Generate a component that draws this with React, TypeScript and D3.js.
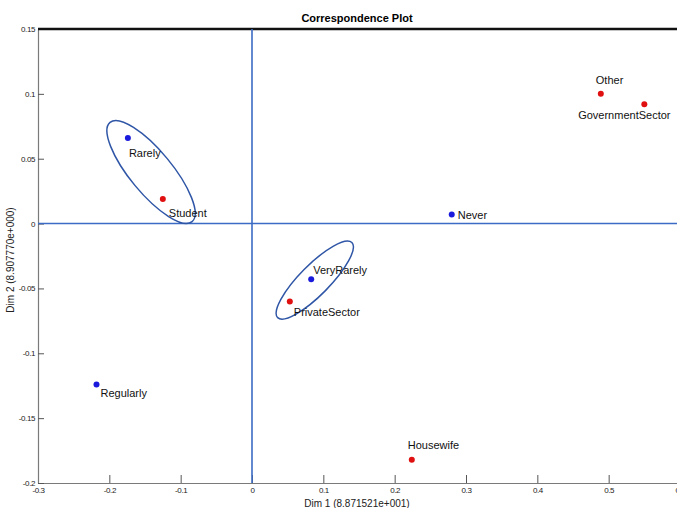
import { useEffect, useRef } from "react";
import * as d3 from "d3";

const W = 677, H = 508;
const M = { top: 29, left: 38, bottom: 25 };
const PLOT_RIGHT = 680; // plot extends slightly past the window edge

const X_TICKS = [-0.3, -0.2, -0.1, 0, 0.1, 0.2, 0.3, 0.4, 0.5, 0.6];
const Y_TICKS = [0.15, 0.1, 0.05, 0, -0.05, -0.1, -0.15, -0.2];

// row points (usage frequency)
const ROW_NAMES = ["Rarely", "Never", "VeryRarely", "Regularly"];
const ROW_X = [-0.174, 0.28, 0.083, -0.218];
const ROW_Y = [0.066, 0.007, -0.043, -0.124];

// column points (occupation)
const COL_NAMES = ["Student", "PrivateSector", "Housewife", "Other", "GovernmentSector"];
const COL_X = [-0.125, 0.053, 0.224, 0.489, 0.55];
const COL_Y = [0.019, -0.06, -0.182, 0.1, 0.092];

// label placement relative to point (pixel offset, anchor)
const LABEL_POS: Record<string, [number, number, string]> = {
  Rarely: [1, 19, "start"],
  Never: [6, 5, "start"],
  VeryRarely: [2, -5, "start"],
  Regularly: [4, 13, "start"],
  Student: [6, 18, "start"],
  PrivateSector: [4, 15, "start"],
  Housewife: [-4, -11, "start"],
  Other: [-5, -10, "start"],
  GovernmentSector: [-20, 15, "middle"],
};

// cluster ellipses: long-axis end points in data coords, plus half-width
const ELL_A = [[-0.199, 0.078], [0.14, -0.0146]];
const ELL_B = [[-0.084, 0.0015], [0.036, -0.0725]];
const ELL_HALF = [21, 15];

const BLUE = "#3b6bc4";
const ELL = "#2f56a6";

export default function App() {
  const ref = useRef<SVGSVGElement>(null);

  useEffect(() => {
    const svg = d3.select(ref.current);
    svg.selectAll("*").remove();

    const x = d3.scaleLinear().domain([-0.3, 0.6]).range([M.left, PLOT_RIGHT]);
    const y = d3.scaleLinear().domain([-0.2, 0.15]).range([H - M.bottom, M.top]);
    const font = "'Liberation Sans', Arial, sans-serif";

    // axes
    const xAx = svg.append("g").attr("transform", `translate(0,${y(-0.2)})`)
      .call(d3.axisBottom(x).tickValues(X_TICKS).tickSizeInner(-8).tickSizeOuter(0)
        .tickFormat(d => String(+(+d).toFixed(2))));
    xAx.select(".domain").attr("stroke", "#7a7a7a").attr("stroke-width", 1.2);
    xAx.selectAll(".tick line").attr("stroke", "#555");
    xAx.selectAll("text").attr("fill", "#222").attr("font-size", 8).attr("font-family", font)
      .attr("letter-spacing", -0.4).attr("y", 4).attr("dy", "0.71em");

    const yAx = svg.append("g").attr("transform", `translate(${M.left},0)`)
      .call(d3.axisLeft(y).tickValues(Y_TICKS).tickSizeInner(-6).tickSizeOuter(0)
        .tickFormat(d => String(+(+d).toFixed(2))));
    yAx.select(".domain").attr("stroke", "#7a7a7a").attr("stroke-width", 1.2);
    yAx.selectAll(".tick line").attr("stroke", "#555");
    yAx.selectAll("text").attr("fill", "#222").attr("font-size", 8).attr("font-family", font)
      .attr("letter-spacing", -0.4).attr("x", -3);

    // top frame line
    svg.append("line").attr("x1", M.left).attr("x2", W).attr("y1", y(0.15)).attr("y2", y(0.15))
      .attr("stroke", "#111").attr("stroke-width", 2.5);

    // zero lines
    svg.append("line").attr("x1", x(0)).attr("x2", x(0)).attr("y1", y(0.15)).attr("y2", y(-0.2))
      .attr("stroke", BLUE).attr("stroke-width", 1.6);
    svg.append("line").attr("x1", M.left).attr("x2", W).attr("y1", y(0)).attr("y2", y(0))
      .attr("stroke", BLUE).attr("stroke-width", 1.6);

    // ellipses
    ELL_A.forEach((a, i) => {
      const b = ELL_B[i];
      const ax = x(a[0]), ay = y(a[1]), bx = x(b[0]), by = y(b[1]);
      const cx = (ax + bx) / 2, cy = (ay + by) / 2;
      const rx = Math.hypot(bx - ax, by - ay) / 2;
      const ang = Math.atan2(by - ay, bx - ax) * 180 / Math.PI;
      svg.append("ellipse").attr("cx", cx).attr("cy", cy).attr("rx", rx).attr("ry", ELL_HALF[i])
        .attr("transform", `rotate(${ang},${cx},${cy})`)
        .attr("fill", "none").attr("stroke", ELL).attr("stroke-width", 1.5);
    });

    const pts = [
      ...ROW_NAMES.map((n, i) => ({ name: n, x: ROW_X[i], y: ROW_Y[i], c: "#1a1adc" })),
      ...COL_NAMES.map((n, i) => ({ name: n, x: COL_X[i], y: COL_Y[i], c: "#e01010" })),
    ];

    svg.append("g").selectAll("circle").data(pts).join("circle")
      .attr("cx", d => x(d.x)).attr("cy", d => y(d.y)).attr("r", 3).attr("fill", d => d.c);

    svg.append("g").selectAll("text").data(pts).join("text")
      .attr("x", d => x(d.x) + LABEL_POS[d.name][0])
      .attr("y", d => y(d.y) + LABEL_POS[d.name][1])
      .attr("text-anchor", d => LABEL_POS[d.name][2])
      .attr("font-size", 11).attr("font-family", font).attr("fill", "#111")
      .text(d => d.name);

    // title and axis labels
    svg.append("text").attr("x", 357).attr("y", 22).attr("text-anchor", "middle")
      .attr("font-size", 11).attr("font-weight", "bold").attr("font-family", font)
      .text("Correspondence Plot");
    svg.append("text").attr("x", 357).attr("y", 507).attr("text-anchor", "middle")
      .attr("font-size", 10).attr("font-family", font).attr("fill", "#222")
      .text("Dim 1 (8.871521e+001)");
    svg.append("text").attr("transform", `translate(14,${(M.top + H - M.bottom) / 2 + 4}) rotate(-90)`)
      .attr("text-anchor", "middle").attr("font-size", 10).attr("font-family", font).attr("fill", "#222")
      .text("Dim 2 (8.907770e+000)");
  }, []);

  return (
    <div style={{ position: "absolute", left: 0, top: 0, width: W, height: H, background: "#fff" }}>
      <svg ref={ref} width={W} height={H} style={{ display: "block" }} />
    </div>
  );
}
